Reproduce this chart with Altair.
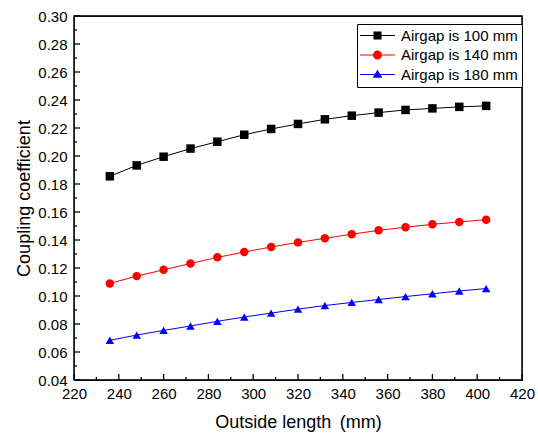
import altair as alt
import pandas as pd

# ---- data ----
outside_length = [236, 248, 260, 272, 284, 296, 308, 320, 332, 344, 356, 368, 380, 392, 404]
airgap_100 = [0.1855, 0.1933, 0.1995, 0.2053, 0.2102, 0.2152, 0.2193, 0.2229, 0.2262, 0.2288,
              0.2310, 0.2329, 0.2340, 0.2351, 0.2358]
airgap_140 = [0.1090, 0.1142, 0.1187, 0.1232, 0.1276, 0.1314, 0.1350, 0.1383, 0.1412, 0.1441,
              0.1469, 0.1491, 0.1512, 0.1529, 0.1545]
airgap_180 = [0.0684, 0.0721, 0.0754, 0.0786, 0.0819, 0.0850, 0.0878, 0.0906, 0.0932, 0.0954,
              0.0975, 0.0996, 0.1016, 0.1036, 0.1053]

series_names = ["Airgap is 100 mm", "Airgap is 140 mm", "Airgap is 180 mm"]
series_colors = ["#000000", "#ff0000", "#0000ff"]
series_markers = ["square", "circle", "triangle-up"]

x_major = list(range(220, 421, 20))
x_minor = list(range(230, 411, 20))
y_major = [round(0.04 + 0.02 * i, 2) for i in range(14)]
y_minor = [round(0.05 + 0.02 * i, 2) for i in range(13)]
x_range = [220, 420]
y_range = [0.04, 0.30]

# legend symbols: line segment + marker (custom paths, unit coords)
line_part = "M-1.42,-0.1L4.42,-0.1L4.42,0.1L-1.42,0.1Z"
legend_paths = [
    line_part + "M0.83,-0.67L2.17,-0.67L2.17,0.67L0.83,0.67Z",
    line_part + "M2.25,0C2.25,0.414 1.914,0.75 1.5,0.75C1.086,0.75 0.75,0.414 0.75,0"
                "C0.75,-0.414 1.086,-0.75 1.5,-0.75C1.914,-0.75 2.25,-0.414 2.25,0Z",
    line_part + "M1.5,-0.78L2.3,0.55L0.7,0.55Z",
]

FONT = "Liberation Sans"
W, H = 448, 364
XT_MAJ = 6 * (y_range[1] - y_range[0]) / H
XT_MIN = 3 * (y_range[1] - y_range[0]) / H
YT_MAJ = 6 * (x_range[1] - x_range[0]) / W
YT_MIN = 3 * (x_range[1] - x_range[0]) / W

rows = []
for name, colr, vals in zip(series_names, series_colors, [airgap_100, airgap_140, airgap_180]):
    for xv, yv in zip(outside_length, vals):
        rows.append({"x": xv, "value": yv, "series": name, "hex": colr})
df = pd.DataFrame(rows)

deco = []
corners = [(x_range[0], y_range[0]), (x_range[0], y_range[1]), (x_range[1], y_range[1]),
           (x_range[1], y_range[0]), (x_range[0], y_range[0])]
for i, (cx, cy) in enumerate(corners):
    deco.append({"grp": "frame", "x": cx, "value": cy, "ord": i, "hex": "#000000"})
for v in x_major:
    deco += [{"grp": f"xM{v}", "x": v, "value": y_range[0], "ord": 0, "hex": "#000000"},
             {"grp": f"xM{v}", "x": v, "value": y_range[0] + XT_MAJ, "ord": 1, "hex": "#000000"}]
for v in x_minor:
    deco += [{"grp": f"xm{v}", "x": v, "value": y_range[0], "ord": 0, "hex": "#000000"},
             {"grp": f"xm{v}", "x": v, "value": y_range[0] + XT_MIN, "ord": 1, "hex": "#000000"}]
for v in y_major:
    deco += [{"grp": f"yM{v}", "x": x_range[0], "value": v, "ord": 0, "hex": "#000000"},
             {"grp": f"yM{v}", "x": x_range[0] + YT_MAJ, "value": v, "ord": 1, "hex": "#000000"}]
for v in y_minor:
    deco += [{"grp": f"ym{v}", "x": x_range[0], "value": v, "ord": 0, "hex": "#000000"},
             {"grp": f"ym{v}", "x": x_range[0] + YT_MIN, "value": v, "ord": 1, "hex": "#000000"}]
deco_df = pd.DataFrame(deco)

x_scale = alt.Scale(domain=x_range, nice=False, zero=False)
y_scale = alt.Scale(domain=y_range, nice=False, zero=False)

x_axis = alt.Axis(
    values=x_major, format="d", title="Outside length\u2009 (mm)", grid=False,
    ticks=False, domain=False, labelPadding=6,
    labelFont=FONT, labelFontSize=15,
    labelColor="black", titleFont=FONT, titleFontSize=18, titleFontWeight="normal",
    titleColor="black", titlePadding=12, labelFlush=False, labelOverlap=False)
y_axis = alt.Axis(
    values=y_major, format=".2f", title="Coupling coefficient", grid=False,
    ticks=False, domain=False, labelPadding=7,
    labelFont=FONT, labelFontSize=15,
    labelColor="black", titleFont=FONT, titleFontSize=18, titleFontWeight="normal",
    titleColor="black", titlePadding=4, labelFlush=False, labelOverlap=False)

X = alt.X("x:Q", scale=x_scale, axis=x_axis)
Y = alt.Y("value:Q", scale=y_scale, axis=y_axis)

base = alt.Chart(df)

lines = base.mark_line(strokeWidth=1).encode(
    x=X, y=Y, color=alt.Color("hex:N", scale=None), detail="series:N")

point_layers = [
    base.transform_filter(alt.datum.series == name).mark_point(
        filled=True, size=72, opacity=1, shape=marker).encode(
        x=X, y=Y, color=alt.Color("hex:N", scale=None))
    for name, marker in zip(series_names, series_markers)
]

legend_def = alt.Legend(
    title=None, orient="none", legendX=283, legendY=8,
    strokeColor="black", fillColor="white", padding=4, rowPadding=3.5,
    labelFont=FONT, labelFontSize=15, labelColor="black", labelOffset=25,
    symbolSize=144, symbolStrokeWidth=0, symbolOpacity=1,
)
legend_layer = base.transform_filter("datum.x < 0").mark_point(filled=True).encode(
    x=X, y=Y,
    color=alt.Color("series:N", scale=alt.Scale(domain=series_names, range=series_colors),
                    legend=legend_def),
    shape=alt.Shape("series:N", scale=alt.Scale(domain=series_names, range=legend_paths),
                    legend=legend_def),
)

decor = alt.Chart(deco_df).mark_line(strokeWidth=1.3).encode(
    x=X, y=Y, detail="grp:N", order="ord:Q", color=alt.Color("hex:N", scale=None))

chart = alt.layer(lines, *point_layers, legend_layer, decor).properties(
    width=W, height=H,
    autosize=alt.AutoSizeParams(type="none"),
    padding={"left": 74, "top": 16, "right": 16, "bottom": 56},
    background="white",
).configure_view(stroke="#333333", strokeWidth=1.2)

chart.save("out.html", embed_options={"renderer": "svg", "actions": False})
